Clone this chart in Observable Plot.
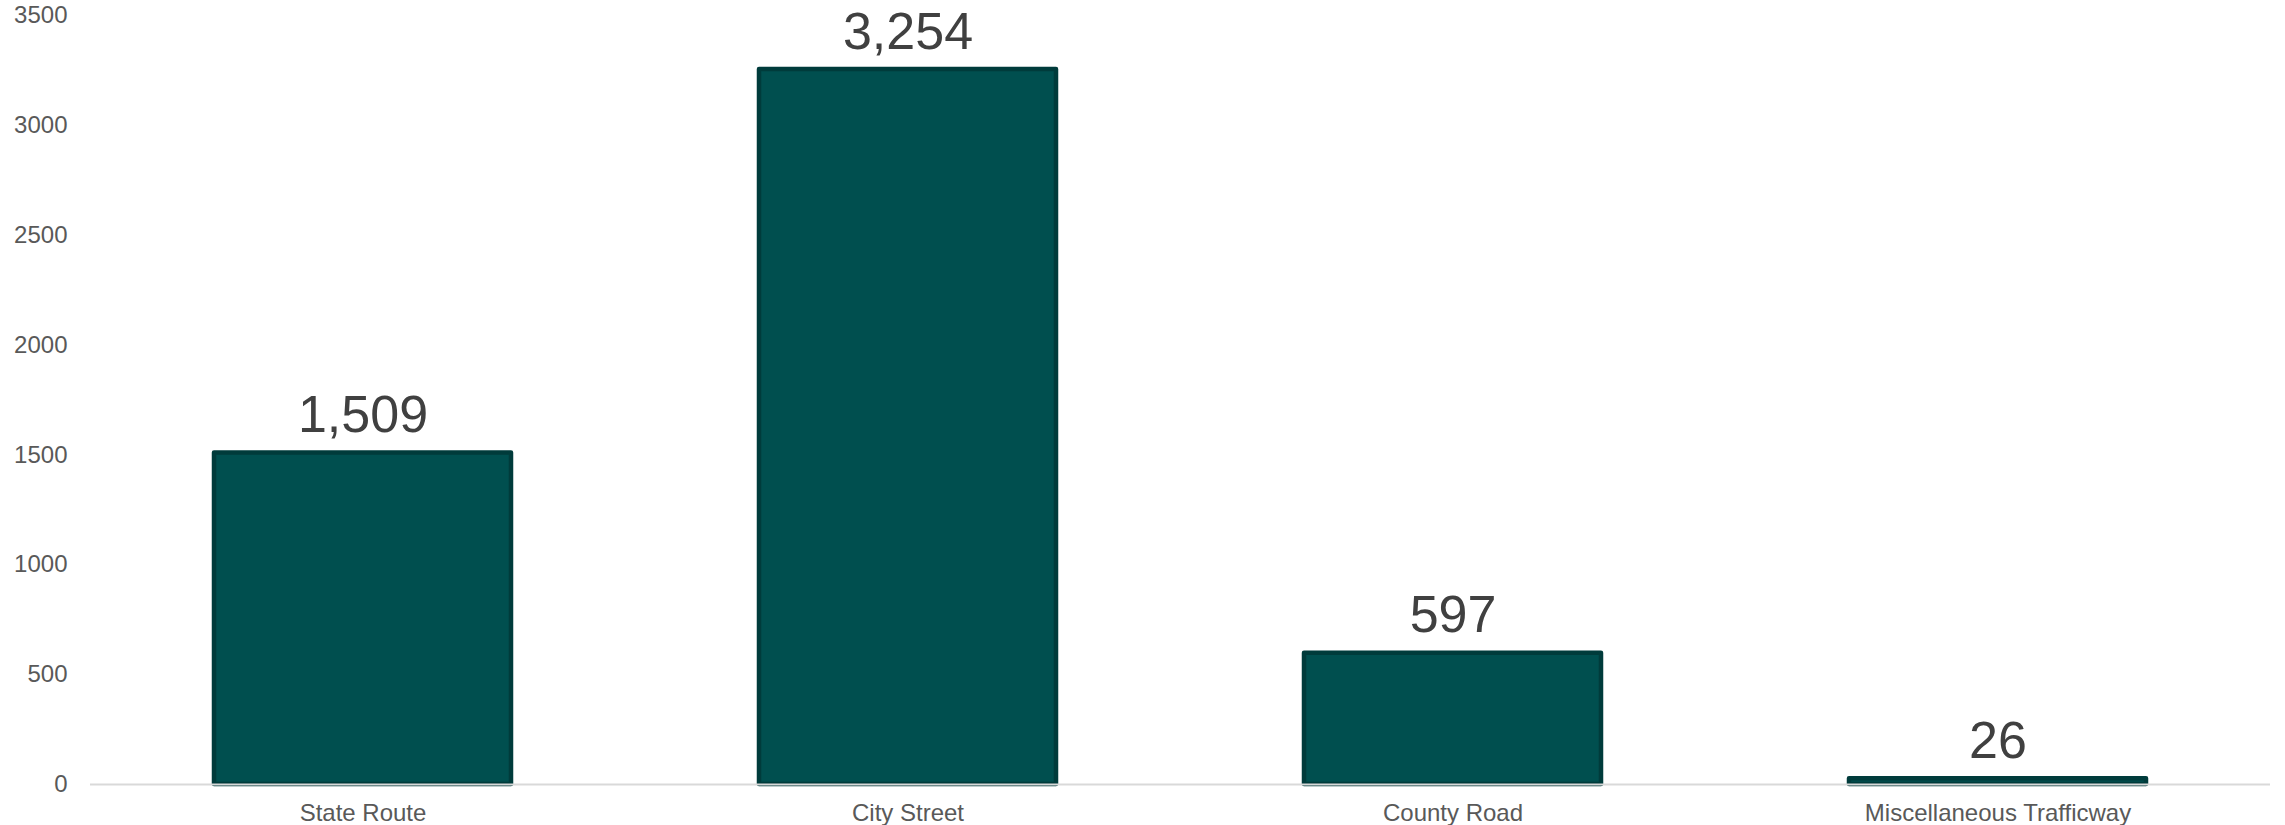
<!DOCTYPE html>
<html>
<head>
<meta charset="utf-8">
<script src="https://cdn.jsdelivr.net/npm/d3@7"></script>
<script src="https://cdn.jsdelivr.net/npm/@observablehq/plot@0.6"></script>
<style>
  html, body { margin: 0; padding: 0; background: #ffffff; }
  #chart { width: 2285px; height: 825px; }
  svg { font-family: "Liberation Sans", Arial, sans-serif; }
</style>
</head>
<body>
<div id="chart"></div>
<script>
const categories = ["State Route", "City Street", "County Road", "Miscellaneous Trafficway"];
const values = [1509, 3254, 597, 26];
const yTicks = [0, 500, 1000, 1500, 2000, 2500, 3000, 3500];

const data = categories.map((c, i) => ({category: c, value: values[i]}));
const fmt = d3.format(",");

const chart = Plot.plot({
  width: 2285,
  height: 825,
  marginLeft: 90,
  marginRight: 15,
  marginTop: 15,
  marginBottom: 41,
  style: {fontFamily: '"Liberation Sans", Arial, sans-serif', background: "#ffffff"},
  x: {domain: categories, paddingInner: 0.455, paddingOuter: 0.2275, label: null, tickSize: 0},
  y: {domain: [0, 3500], label: null},
  marks: [
    Plot.barY(data, {
      x: "category", y: "value",
      fill: "#004f4f", stroke: "#003b3b", strokeWidth: 4.5, strokeLinejoin: "round"
    }),
    Plot.ruleY([0], {stroke: "#d9d9d9", strokeWidth: 2}),
    Plot.axisY({ticks: yTicks, tickSize: 0, tickPadding: 23, fontSize: 24, color: "#595959", label: null, tickFormat: d => String(d)}),
    Plot.axisX({tickSize: 0, tickPadding: 19, fontSize: 24, color: "#595959", label: null}),
    Plot.text(data, {
      x: "category", y: "value", text: d => fmt(d.value),
      lineAnchor: "bottom", dy: -21, fontSize: 52, fill: "#404040"
    })
  ]
});
document.getElementById("chart").appendChild(chart);
</script>
</body>
</html>
